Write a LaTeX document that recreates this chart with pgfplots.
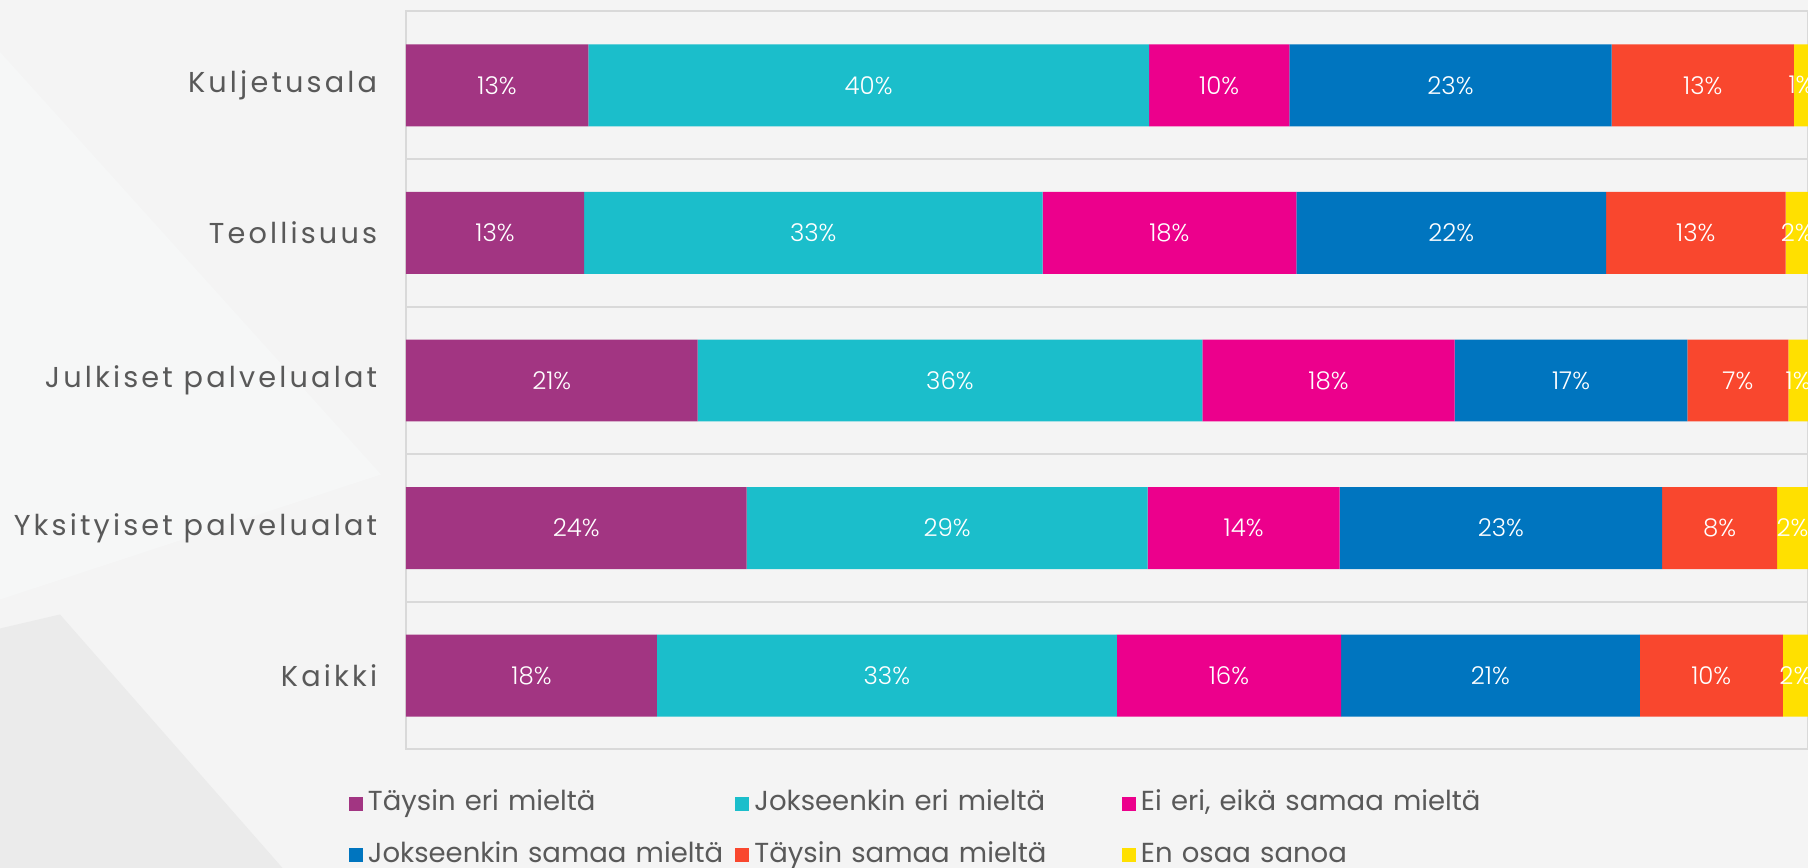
\documentclass[border=0pt]{standalone}
\usepackage{pgfplots}
\pgfplotsset{compat=1.18}
\usepackage{fontspec}
\setmainfont{Poppins}
\newfontfamily\catfont[LetterSpace=11]{Poppins}
\newfontfamily\lightfont{Poppins Light}
\definecolor{cA}{HTML}{A23582}
\definecolor{cB}{HTML}{1BBECB}
\definecolor{cC}{HTML}{EC008C}
\definecolor{cD}{HTML}{0075BF}
\definecolor{cE}{HTML}{F9472E}
\definecolor{cF}{HTML}{FFE000}
\definecolor{gridc}{HTML}{D9D9D9}
\definecolor{labelc}{HTML}{595959}
\definecolor{bgc}{HTML}{F4F4F4}
\definecolor{bgd}{HTML}{EBEBEB}
\definecolor{bgl}{HTML}{F6F7F7}
\begin{document}
\begin{tikzpicture}[x=1pt,y=1pt]
\fill[bgc] (-162.4,-47.4) rectangle (560.8,299.8);
\fill[bgl] (-162.4,279.0) -- (-10,110) -- (-162.4,60) -- cycle;
\fill[bgd] (-162.4,48.4) -- (-138.4,54.0) -- (-49.4,-47.4) -- (-162.4,-47.4) -- cycle;
\begin{axis}[
  at={(0,0)}, anchor=south west,
  width=560.8pt, height=295.2pt, scale only axis,
  xbar stacked,
  xmin=0, xmax=100, ymin=-0.5, ymax=4.5,
  bar width=0.555,
  ytick={0,1,2,3,4},
  yticklabels={Kaikki, Yksityiset palvelualat, Julkiset palvelualat, Teollisuus, Kuljetusala},
  minor ytick={0.5,1.5,2.5,3.5},
  yminorgrids,
  minor grid style={gridc, line width=0.8pt},
  xtick=\empty,
  major tick length=0pt, minor tick length=0pt,
  axis line style={gridc, line width=0.8pt},
  yticklabel style={font=\catfont\fontsize{11.5}{13}\selectfont, text=labelc, xshift=-8pt},
  point meta=explicit symbolic,
  nodes near coords={\pgfplotspointmeta\%},
  nodes near coords style={anchor=center, text=white, font=\lightfont\fontsize{9.8}{11}\selectfont},
  legend columns=3,
  legend style={at={(rel axis cs:0,0)}, anchor=north west, xshift=-23pt, yshift=-15.4pt,
    draw=none, fill=none, inner sep=0pt, row sep=8pt,
    font=\fontsize{11}{13}\selectfont, text=labelc,
    nodes={inner sep=1pt, text height=8pt, text depth=2.5pt},
    /tikz/every odd column/.append style={column sep=1pt},
    /tikz/every even column/.append style={text width=146pt, align=left}},
  legend image code/.code={\fill[#1] (0pt,-2.8pt) rectangle (5.6pt,2.8pt);},
]
\addplot[fill=cA, draw=none] coordinates {(13.0,4)[13] (12.7,3)[13] (20.8,2)[21] (24.3,1)[24] (17.9,0)[18]};
\addplot[fill=cB, draw=none] coordinates {(40.0,4)[40] (32.7,3)[33] (36.0,2)[36] (28.6,1)[29] (32.8,0)[33]};
\addplot[fill=cC, draw=none] coordinates {(10.0,4)[10] (18.1,3)[18] (18.0,2)[18] (13.7,1)[14] (16.0,0)[16]};
\addplot[fill=cD, draw=none] coordinates {(23.0,4)[23] (22.1,3)[22] (16.6,2)[17] (23.0,1)[23] (21.3,0)[21]};
\addplot[fill=cE, draw=none] coordinates {(13.0,4)[13] (12.8,3)[13] (7.2,2)[7] (8.2,1)[8] (10.2,0)[10]};
\addplot[fill=cF, draw=none] coordinates {(1.0,4)[1] (1.6,3)[2] (1.4,2)[1] (2.2,1)[2] (1.8,0)[2]};
\addlegendentry{Täysin eri mieltä}
\addlegendentry{Jokseenkin eri mieltä}
\addlegendentry{Ei eri, eikä samaa mieltä}
\addlegendentry{Jokseenkin samaa mieltä}
\addlegendentry{Täysin samaa mieltä}
\addlegendentry{En osaa sanoa}
\end{axis}
\pgfresetboundingbox
\path (-162.4,-47.4) rectangle (560.8,299.8);
\end{tikzpicture}
\end{document}
